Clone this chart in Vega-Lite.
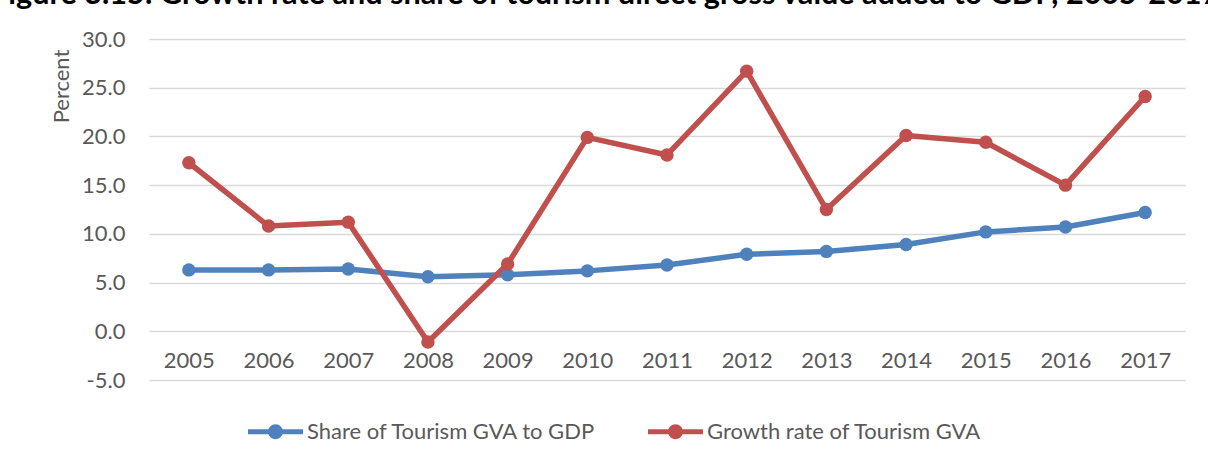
{
  "$schema": "https://vega.github.io/schema/vega-lite/v6.json",
  "width": 1036,
  "height": 341,
  "autosize": {"type": "none"},
  "padding": {"left": 149, "top": 39, "right": 23, "bottom": 83},
  "background": "white",
  "title": {
    "text": "Figure 3.15: Growth rate and share of tourism direct gross value added to GDP, 2005-2017",
    "anchor": "start",
    "frame": "group",
    "fontSize": 30.6,
    "fontWeight": "bold",
    "color": "#000000",
    "font": "Lato",
    "baseline": "alphabetic",
    "offset": 20,
    "dy": 27,
    "dx": -158
  },
  "data": {
    "values": [
      {"year": "2005", "series": "Share of Tourism GVA to GDP", "value": 6.3},
      {"year": "2006", "series": "Share of Tourism GVA to GDP", "value": 6.3},
      {"year": "2007", "series": "Share of Tourism GVA to GDP", "value": 6.4},
      {"year": "2008", "series": "Share of Tourism GVA to GDP", "value": 5.6},
      {"year": "2009", "series": "Share of Tourism GVA to GDP", "value": 5.8},
      {"year": "2010", "series": "Share of Tourism GVA to GDP", "value": 6.2},
      {"year": "2011", "series": "Share of Tourism GVA to GDP", "value": 6.8},
      {"year": "2012", "series": "Share of Tourism GVA to GDP", "value": 7.9},
      {"year": "2013", "series": "Share of Tourism GVA to GDP", "value": 8.2},
      {"year": "2014", "series": "Share of Tourism GVA to GDP", "value": 8.9},
      {"year": "2015", "series": "Share of Tourism GVA to GDP", "value": 10.2},
      {"year": "2016", "series": "Share of Tourism GVA to GDP", "value": 10.7},
      {"year": "2017", "series": "Share of Tourism GVA to GDP", "value": 12.2},
      {"year": "2005", "series": "Growth rate of Tourism GVA", "value": 17.3},
      {"year": "2006", "series": "Growth rate of Tourism GVA", "value": 10.8},
      {"year": "2007", "series": "Growth rate of Tourism GVA", "value": 11.2},
      {"year": "2008", "series": "Growth rate of Tourism GVA", "value": -1.1},
      {"year": "2009", "series": "Growth rate of Tourism GVA", "value": 6.9},
      {"year": "2010", "series": "Growth rate of Tourism GVA", "value": 19.9},
      {"year": "2011", "series": "Growth rate of Tourism GVA", "value": 18.1},
      {"year": "2012", "series": "Growth rate of Tourism GVA", "value": 26.7},
      {"year": "2013", "series": "Growth rate of Tourism GVA", "value": 12.5},
      {"year": "2014", "series": "Growth rate of Tourism GVA", "value": 20.1},
      {"year": "2015", "series": "Growth rate of Tourism GVA", "value": 19.4},
      {"year": "2016", "series": "Growth rate of Tourism GVA", "value": 15.0},
      {"year": "2017", "series": "Growth rate of Tourism GVA", "value": 24.1}
    ]
  },
  "encoding": {
    "x": {
      "field": "year",
      "type": "ordinal",
      "scale": {"type": "point", "padding": 0.5},
      "axis": {
        "title": null,
        "domain": false,
        "ticks": false,
        "grid": false,
        "offset": -48.7,
        "labelPadding": 19,
        "labelFontSize": 22,
        "labelColor": "#595959",
        "labelAngle": 0
      }
    },
    "y": {
      "field": "value",
      "type": "quantitative",
      "scale": {"domain": [-5, 30], "nice": false, "zero": false},
      "axis": {
        "values": [-5, 0, 5, 10, 15, 20, 25, 30],
        "labelExpr": "replace(format(datum.value, '.1f'), '\u2212', '-')",
        "domain": false,
        "ticks": false,
        "gridColor": "#d9d9d9",
        "gridWidth": 1.5,
        "labelPadding": 24,
        "labelFontSize": 22,
        "labelColor": "#595959",
        "title": "Percent",
        "titleFontSize": 22,
        "titleFontWeight": "normal",
        "titleColor": "#595959",
        "titleX": -88,
        "titleY": 47,
        "titleAngle": -90,
        "titleAlign": "center",
        "titleBaseline": "middle"
      }
    },
    "color": {
      "field": "series",
      "type": "nominal",
      "sort": null,
      "scale": {
        "domain": ["Share of Tourism GVA to GDP", "Growth rate of Tourism GVA"],
        "range": ["#4F81BD", "#C0504D"]
      },
      "legend": {
        "orient": "none",
        "legendX": 99,
        "legendY": 365,
        "direction": "horizontal",
        "title": null,
        "symbolType": "M-1,-0.09H1V0.09H-1Z M0.27,0A0.27,0.27,0,1,1,-0.27,0A0.27,0.27,0,1,1,0.27,0Z",
        "symbolSize": 3025,
        "symbolStrokeWidth": 0,
        "symbolOpacity": 1,
        "labelFontSize": 22,
        "labelLimit": 0,
        "labelColor": "#595959",
        "labelOffset": 4,
        "columnPadding": 52,
        "padding": 0
      }
    }
  },
  "layer": [
    {"mark": {"type": "line", "strokeWidth": 5.5, "strokeJoin": "round", "strokeCap": "round"}},
    {"mark": {"type": "point", "filled": true, "size": 180, "opacity": 1}}
  ],
  "config": {"font": "Lato", "view": {"stroke": null}}
}
